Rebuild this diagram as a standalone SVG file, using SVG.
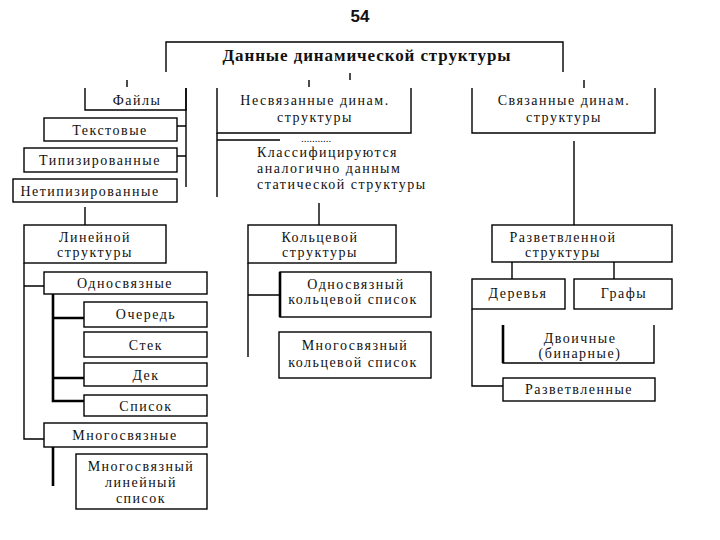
<svg xmlns="http://www.w3.org/2000/svg" width="720" height="540" viewBox="0 0 720 540">
<style>
.b{fill:#fff;stroke:#000;stroke-width:1.4}
.o{fill:none;stroke:#000;stroke-width:1.4}
.c{fill:none;stroke:#000;stroke-width:1.4}
.k{fill:none;stroke:#000;stroke-width:2.6}
text{font-family:"Liberation Serif","Times New Roman",serif;font-size:14px;fill:#111;letter-spacing:1.5px;text-anchor:middle;dominant-baseline:central}
.h{font-size:17px;font-weight:bold;letter-spacing:0.9px}
.n{font-family:"Liberation Sans",Arial,sans-serif;font-size:17px;font-weight:bold;letter-spacing:0}
.l{text-anchor:start}
</style>
<rect width="720" height="540" fill="#fff"/>
<text class="n" x="360" y="16">54</text>
<g id="connectors">
<path class="c" d="M350,73V80M309,80V87M127,80V87M584,80V88"/>
<path class="c" d="M186,88V187M177,126H186M177,156H186"/>
<path class="c" d="M217,133V197M217,140H280"/>
<path class="c" d="M319,203V225M85,207V225"/>
<path class="c" d="M24,263V439H44M24,286H44"/>
<path class="k" d="M53,294V401H84M53,318H84M53,378H84"/>
<path class="k" d="M53,447V486"/>
<path class="c" d="M248,263V357M248,295H280"/>
<path class="c" d="M574,141V225M512,262V279M614,262V279"/>
<path class="c" d="M472,309V386H503"/>
</g>
<g id="root"><path class="o" d="M166,72V42H563V72"/><text class="h" x="367" y="55">Данные динамической структуры</text></g>
<g id="files"><path class="o" d="M85,88V110H186V88"/><text x="137" y="100">Файлы</text></g>
<g id="text-files"><rect class="b" x="44" y="118" width="133" height="23"/><text x="110" y="130">Текстовые</text></g>
<g id="typed"><rect class="b" x="24" y="148" width="153" height="24"/><text x="100" y="160">Типизированные</text></g>
<g id="untyped"><rect class="b" x="13" y="179" width="164" height="23"/><text x="90" y="191">Нетипизированные</text></g>
<g id="unlinked"><path class="o" d="M217,88V133H411V88"/><text x="315" y="100">Несвязанные динам.</text><text x="315" y="117">структуры</text></g>
<g id="note"><text x="316" y="138" style="letter-spacing:0;font-size:11px">...........</text><text class="l" x="257" y="152">Классифицируются</text><text class="l" x="257" y="168">аналогично данным</text><text class="l" x="257" y="184">статической структуры</text></g>
<g id="linked"><path class="o" d="M472,88V133H655V88"/><text x="564" y="100">Связанные динам.</text><text x="564" y="117">структуры</text></g>
<g id="linear"><rect class="b" x="24" y="225" width="142" height="38"/><text x="95" y="237">Линейной</text><text x="95" y="252">структуры</text></g>
<g id="ring"><rect class="b" x="248" y="225" width="148" height="38"/><text x="320" y="237">Кольцевой</text><text x="320" y="252">структуры</text></g>
<g id="branched"><rect class="b" x="492" y="225" width="180" height="37"/><text x="563" y="237">Разветвленной</text><text x="563" y="252">структуры</text></g>
<g id="singly"><rect class="b" x="44" y="272" width="163" height="22"/><text x="125" y="283">Односвязные</text></g>
<g id="queue"><rect class="b" x="84" y="302" width="123" height="25"/><text x="146" y="314">Очередь</text></g>
<g id="stack"><rect class="b" x="84" y="332" width="123" height="25"/><text x="146" y="345">Стек</text></g>
<g id="deque"><rect class="b" x="84" y="363" width="123" height="23"/><text x="146" y="375">Дек</text></g>
<g id="list"><rect class="b" x="84" y="395" width="123" height="21"/><text x="146" y="406">Список</text></g>
<g id="multi"><rect class="b" x="44" y="423" width="163" height="24"/><text x="125" y="435">Многосвязные</text></g>
<g id="multilist"><rect class="b" x="76" y="454" width="131" height="55"/><text x="141" y="466">Многосвязный</text><text x="141" y="482">линейный</text><text x="141" y="498">список</text></g>
<g id="ring1"><rect class="b" x="280" y="272" width="151" height="45"/><path class="k" d="M280,272V317"/><text x="356" y="284">Односвязный</text><text x="353" y="299">кольцевой список</text></g>
<g id="ring2"><rect class="b" x="279" y="332" width="152" height="46"/><text x="355" y="345">Многосвязный</text><text x="353" y="362">кольцевой список</text></g>
<g id="trees"><rect class="b" x="472" y="279" width="93" height="30"/><text x="518" y="293">Деревья</text></g>
<g id="graphs"><rect class="b" x="574" y="279" width="98" height="30"/><text x="624" y="293">Графы</text></g>
<g id="binary"><path class="o" d="M503,325V363H654V325"/><path class="k" d="M503,325V363"/><text x="580" y="338">Двоичные</text><text x="580" y="353">(бинарные)</text></g>
<g id="branched2"><rect class="b" x="503" y="378" width="152" height="23"/><text x="579" y="389">Разветвленные</text></g>
</svg>
